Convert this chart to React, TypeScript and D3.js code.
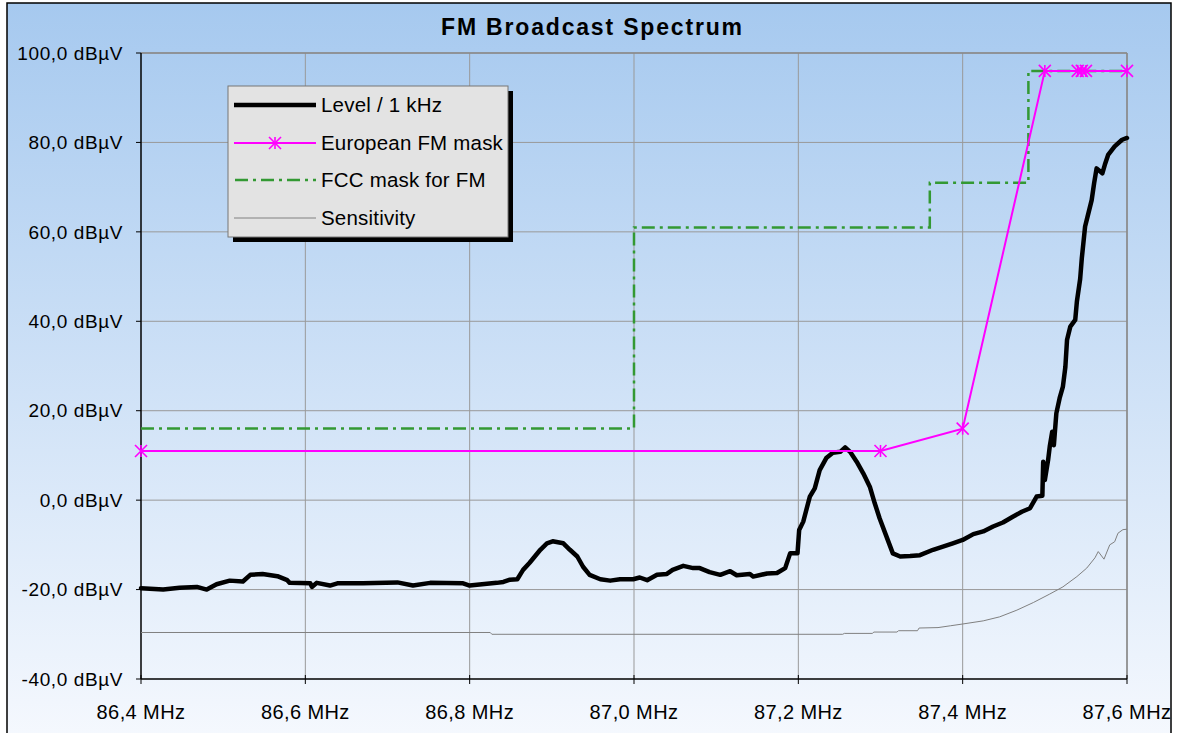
import React from "react";
import * as d3 from "d3";

const yTicks = [-40, -20, 0, 20, 40, 60, 80, 100];
const xTicks = [86.4, 86.6, 86.8, 87.0, 87.2, 87.4, 87.6];

const levelFreq = [86.400,86.427,86.447,86.468,86.480,86.492,86.508,86.524,86.533,86.548,86.566,86.578,86.581,86.606,86.608,86.614,86.630,86.639,86.670,86.712,86.731,86.752,86.792,86.800,86.833,86.841,86.849,86.858,86.865,86.873,86.886,86.894,86.901,86.914,86.922,86.931,86.938,86.946,86.959,86.971,86.983,86.999,87.007,87.016,87.028,87.040,87.047,87.060,87.072,87.080,87.092,87.105,87.117,87.125,87.141,87.145,87.162,87.174,87.184,87.190,87.199,87.201,87.206,87.214,87.220,87.226,87.234,87.242,87.251,87.257,87.263,87.271,87.279,87.287,87.293,87.299,87.308,87.315,87.324,87.336,87.348,87.364,87.376,87.388,87.400,87.413,87.425,87.437,87.449,87.461,87.472,87.482,87.490,87.497,87.498,87.500,87.504,87.506,87.509,87.511,87.514,87.518,87.522,87.525,87.527,87.531,87.537,87.539,87.543,87.545,87.549,87.552,87.557,87.560,87.563,87.570,87.573,87.577,87.585,87.594,87.600];
const levelDb = [-19.7,-20.0,-19.6,-19.4,-20.0,-18.8,-18.0,-18.2,-16.7,-16.5,-17.0,-17.9,-18.5,-18.6,-19.4,-18.5,-19.1,-18.6,-18.6,-18.4,-19.1,-18.5,-18.6,-19.1,-18.5,-18.3,-17.8,-17.7,-15.6,-14.0,-11.1,-9.65,-9.2,-9.65,-11.1,-12.6,-14.9,-16.7,-17.7,-18.0,-17.7,-17.7,-17.3,-17.9,-16.7,-16.5,-15.6,-14.7,-15.2,-15.2,-16.1,-16.7,-15.9,-16.8,-16.5,-17.1,-16.4,-16.3,-15.2,-11.9,-11.9,-6.7,-4.8,0.8,2.65,6.7,9.4,10.6,10.8,11.8,10.8,8.6,6.0,3.0,-0.7,-4.1,-8.5,-11.9,-12.6,-12.5,-12.3,-11.1,-10.4,-9.65,-8.9,-7.6,-7.0,-5.9,-5.0,-3.7,-2.6,-1.8,0.8,1.0,8.6,4.5,9.0,12.0,15.3,12.3,19.4,22.8,25.4,29.8,35.8,38.8,40.3,44.4,49.5,54.1,61.2,63.4,67.1,70.9,74.2,73.1,75.0,77.2,79.1,80.6,81.0];

const euFreq = [86.4, 87.3, 87.4, 87.5, 87.54, 87.545, 87.55, 87.6];
const euDb = [11, 11, 16, 96, 96, 96, 96, 96];

const fccFreq = [86.4, 87.0, 87.0, 87.36, 87.36, 87.48, 87.48, 87.6];
const fccDb = [16, 16, 61, 61, 71, 71, 96, 96];

const sensFreq = [86.4, 86.825, 86.827, 87.254, 87.256, 87.29, 87.292, 87.32, 87.322, 87.345, 87.347, 87.37, 87.385, 87.4, 87.425, 87.445, 87.466, 87.486, 87.506, 87.522, 87.539, 87.551, 87.561, 87.565, 87.572, 87.579, 87.585, 87.589, 87.595, 87.6];
const sensDb = [-29.6, -29.6, -30.0, -30.0, -29.8, -29.8, -29.5, -29.5, -29.2, -29.2, -28.6, -28.5, -28.1, -27.7, -27.0, -26.1, -24.6, -22.9, -21.0, -19.4, -17.1, -15.2, -12.9, -11.5, -13.2, -10.0, -9.3, -7.4, -6.6, -6.5];

const legendLabels = ["Level / 1 kHz", "European FM mask", "FCC mask for FM", "Sensitivity"];
const title = "FM Broadcast Spectrum";

const W = 1178, H = 733;
const M = { left: 141, right: 1127, top: 53, bottom: 679 };
const FONT = "'Liberation Sans', Arial, sans-serif";

const fmt = (v: number) => d3.format(".1f")(v).replace(".", ",").replace("\u2212", "-");

function Star({ x, y, s = 6 }: { x: number; y: number; s?: number }) {
  return (
    <g stroke="#ff00ff" strokeWidth={1.6}>
      <line x1={x - s} y1={y - s} x2={x + s} y2={y + s} />
      <line x1={x - s} y1={y + s} x2={x + s} y2={y - s} />
      <line x1={x} y1={y - s} x2={x} y2={y + s} />
    </g>
  );
}

export default function App() {
  const x = d3.scaleLinear().domain([86.4, 87.6]).range([M.left, M.right]);
  const y = d3.scaleLinear().domain([-40, 100]).range([M.bottom, M.top]);
  const line = d3.line<[number, number]>().x((d) => x(d[0])).y((d) => y(d[1]));

  const level = levelFreq.map((f, i) => [f, levelDb[i]] as [number, number]);
  const eu = euFreq.map((f, i) => [f, euDb[i]] as [number, number]);
  const fcc = fccFreq.map((f, i) => [f, fccDb[i]] as [number, number]);
  const sens = sensFreq.map((f, i) => [f, sensDb[i]] as [number, number]);

  const lx = 228, ly = 86, lw = 280, lh = 151;
  const rowY = [105, 143, 180, 218];

  return (
    <div style={{ position: "absolute", left: 0, top: 0 }}>
      <svg width={W} height={H} style={{ display: "block" }} fontFamily={FONT}>
        <defs>
          <linearGradient id="bg" x1="0" y1="0" x2="0" y2="1">
            <stop offset="0%" stopColor="#a6c9ef" />
            <stop offset="100%" stopColor="#f6f9fe" />
          </linearGradient>
        </defs>
        <rect x={7} y={3} width={1164} height={745} fill="url(#bg)" stroke="#000" strokeWidth={1.5} />
        <text x={441} y={35} textAnchor="start" fontSize={23} fontWeight="bold" fill="#000" textLength={301} lengthAdjust="spacing">{title}</text>

        {/* grid */}
        {yTicks.filter((t) => t > -40).map((t) => (
          <line key={"gy" + t} x1={M.left} x2={M.right} y1={y(t)} y2={y(t)} stroke="#999" strokeWidth={1} />
        ))}
        {xTicks.filter((t) => t > 86.4).map((t) => (
          <line key={"gx" + t} x1={x(t)} x2={x(t)} y1={M.top} y2={M.bottom} stroke="#999" strokeWidth={1} />
        ))}
        <line x1={M.left} x2={M.right} y1={M.top} y2={M.top} stroke="#888" strokeWidth={1.5} />
        <line x1={M.right} x2={M.right} y1={M.top} y2={M.bottom} stroke="#888" strokeWidth={1.5} />

        {/* axes */}
        <line x1={M.left} x2={M.left} y1={M.top} y2={M.bottom} stroke="#000" strokeWidth={1.5} />
        <line x1={M.left} x2={M.right} y1={M.bottom} y2={M.bottom} stroke="#000" strokeWidth={1.5} />
        {yTicks.map((t) => (
          <g key={"yt" + t}>
            <line x1={M.left - 5} x2={M.left} y1={y(t)} y2={y(t)} stroke="#000" strokeWidth={1} />
            <text x={123} y={y(t)} dy="0.35em" textAnchor="end" fontSize={19} letterSpacing={0.6} fill="#000">{fmt(t)} dBµV</text>
          </g>
        ))}
        {xTicks.map((t) => (
          <g key={"xt" + t}>
            <line x1={x(t)} x2={x(t)} y1={M.bottom - 4} y2={M.bottom + 5} stroke="#000" strokeWidth={1} />
            <text x={x(t)} y={712} dy="0.35em" textAnchor="middle" fontSize={20} letterSpacing={0.4} fill="#000">{fmt(t)} MHz</text>
          </g>
        ))}

        {/* series */}
        <path d={line(sens) || ""} fill="none" stroke="#808080" strokeWidth={1} />
        <path d={line(fcc) || ""} fill="none" stroke="#339933" strokeWidth={2.5} strokeDasharray="13,5,3,5" />
        <path d={line(level) || ""} fill="none" stroke="#000" strokeWidth={4.5} strokeLinejoin="round" strokeLinecap="round" />
        <path d={line(eu) || ""} fill="none" stroke="#ff00ff" strokeWidth={2} />
        {eu.map((d, i) => <Star key={"m" + i} x={x(d[0])} y={y(d[1])} />)}

        {/* legend */}
        <rect x={lx + 5} y={ly + 5} width={lw} height={lh} fill="#000" />
        <rect x={lx} y={ly} width={lw} height={lh} fill="#e3e3e3" stroke="#777" strokeWidth={1} />
        <line x1={234} x2={316} y1={rowY[0]} y2={rowY[0]} stroke="#000" strokeWidth={4.5} />
        <line x1={234} x2={316} y1={rowY[1]} y2={rowY[1]} stroke="#ff00ff" strokeWidth={2} />
        <Star x={275} y={rowY[1]} />
        <line x1={235} x2={316} y1={rowY[2]} y2={rowY[2]} stroke="#339933" strokeWidth={2.5} strokeDasharray="13,5,3,5" />
        <line x1={234} x2={316} y1={rowY[3]} y2={rowY[3]} stroke="#808080" strokeWidth={1} />
        {legendLabels.map((l, i) => (
          <text key={l} x={321} y={rowY[i]} dy="0.35em" fontSize={20.5} letterSpacing={0.2} fill="#000">{l}</text>
        ))}
      </svg>
    </div>
  );
}
